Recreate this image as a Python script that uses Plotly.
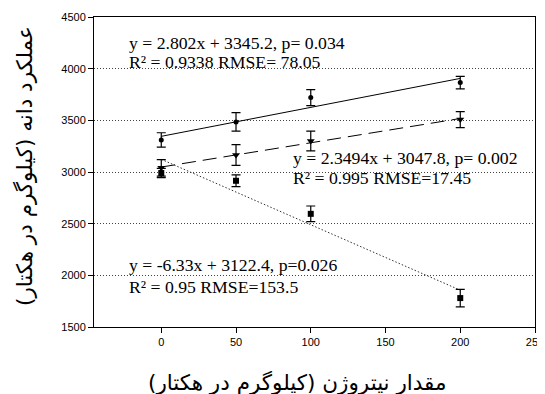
import plotly.graph_objects as go

nitrogen = [0, 50, 100, 200]
yield_a = [3310, 3485, 3720, 3865]
err_a = [70, 90, 78, 60]
yield_b = [3040, 3165, 3300, 3507]
err_b = [80, 100, 95, 78]
yield_c = [2990, 2915, 2595, 1780]
err_c = [45, 57, 76, 85]

fit_a = (2.802, 3345.2)
fit_b = (2.3494, 3047.8)
fit_c = (-6.33, 3122.4)
fit_x = [0, 200]

labels = [
    "y = 2.802x + 3345.2, p= 0.034", "R² = 0.9338 RMSE= 78.05",
    "y = 2.3494x + 3047.8, p= 0.002", "R² = 0.995 RMSE=17.45",
    "y = -6.33x + 3122.4, p=0.026", "R² = 0.95 RMSE=153.5",
]
x_title = "مقدار نیتروژن (کیلوگرم در هکتار)"
y_title = "عملکرد دانه (کیلوگرم در هکتار)"

fig = go.Figure()

def fit_line(coef, dash, width, color):
    fig.add_trace(go.Scatter(
        x=fit_x, y=[coef[0] * v + coef[1] for v in fit_x], mode="lines",
        line=dict(color=color, width=width, dash=dash), hoverinfo="skip"))

fit_line(fit_a, "solid", 1, "black")
fit_line(fit_b, "14px,7px", 1, "black")
fit_line(fit_c, "1.5px,2px", 1, "#333")

def pts(y, e, symbol, size):
    fig.add_trace(go.Scatter(
        x=nitrogen, y=y, mode="markers",
        marker=dict(symbol=symbol, size=size, color="black"),
        error_y=dict(type="data", array=e, visible=True, color="black",
                     thickness=1.2, width=4.5)))

pts(yield_a, err_a, "circle", 5)
pts(yield_b, err_b, "triangle-down", 7)
pts(yield_c, err_c, "square", 6)

ann_font = dict(family="Liberation Serif, Times New Roman, serif", size=17.7, color="black")
positions = [(-23, 4245), (-23, 4060), (87, 3135), (87, 2940), (-23, 2100), (-23, 1888)]
for t, (px, py) in zip(labels, positions):
    fig.add_annotation(x=px, y=py, text=t, showarrow=False, xanchor="left",
                       yanchor="middle", font=ann_font)

title_font = dict(family="DejaVu Sans", size=21.5, color="black")
fig.add_annotation(xref="paper", yref="paper", x=(297 - 94) / 441, y=(327 - 382) / 310,
                   text=x_title, showarrow=False, xanchor="center", yanchor="middle",
                   font=title_font)
fig.add_annotation(xref="paper", yref="paper", x=(25 - 94) / 441, y=(327 - 166) / 310,
                   text=y_title, showarrow=False, xanchor="center", yanchor="middle",
                   textangle=-90, font=title_font)

axis_common = dict(showline=True, linecolor="black", linewidth=1, mirror=True,
                   ticks="outside", ticklen=5, tickcolor="black", zeroline=False,
                   automargin=False,
                   tickfont=dict(family="Liberation Sans, Arial, sans-serif", size=11, color="black"))

fig.update_layout(
    width=537, height=386, showlegend=False,
    paper_bgcolor="white", plot_bgcolor="white",
    margin=dict(l=86, r=10, t=9, b=67),
    xaxis=dict(range=[-45, 250], tickvals=[0, 50, 100, 150, 200, 250],
               showgrid=False, **axis_common),
    yaxis=dict(range=[1500, 4500], tickvals=[1500, 2000, 2500, 3000, 3500, 4000, 4500],
               showgrid=True, gridcolor="#444", gridwidth=1, griddash="1px,2px",
               **axis_common),
)

fig.write_html("out.html")
